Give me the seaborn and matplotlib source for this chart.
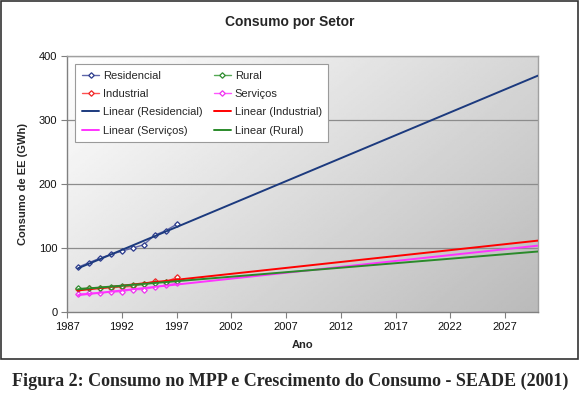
import numpy as np
import seaborn as sns
import matplotlib.pyplot as plt
from matplotlib.patches import Rectangle

# dados (GWh)
anos = [1988, 1989, 1990, 1991, 1992, 1993, 1994, 1995, 1996, 1997]
residencial = [70, 77, 84, 90, 95, 100, 105, 120, 127, 137]
industrial = [36, 37, 37, 38, 39, 40, 44, 48, 47, 54]
rural = [37, 37, 38, 39, 40, 42, 43, 46, 47, 49]
servicos = [28, 29, 30, 31, 32, 35, 35, 39, 42, 45]
ano_fim = 2030

series = [
    ('Residencial', residencial, '#5f66aa', '#2b3a8c', '#1c3a7e'),
    ('Industrial', industrial, '#ff5050', '#ee2222', '#ff0000'),
    ('Serviços', servicos, '#ff55ff', '#ee33ee', '#ff33ff'),
    ('Rural', rural, '#55aa55', '#2e8b2e', '#2a8a2a'),
]

sns.set_style('white')
plt.rcParams['font.family'] = ['Liberation Sans', 'DejaVu Sans']

fig = plt.figure(figsize=(5.8, 3.97), dpi=100)
fig.patches.append(Rectangle((1 / 580, 38 / 397), 577 / 580, 358 / 397, transform=fig.transFigure,
                             fill=False, edgecolor='#333333', linewidth=1.2))
ax = fig.add_axes([67 / 580, 1 - 312 / 397, 471 / 580, 256 / 397])

# fundo em degrade (branco -> cinza)
gx, gy = np.meshgrid(np.linspace(0, 1, 200), np.linspace(0, 1, 200))
grad = 1 - 0.27 * (0.6 * gx + 0.4 * gy)
ax.imshow(grad, extent=[1987, ano_fim, 0, 400], origin='upper', aspect='auto',
          cmap='gray', vmin=0, vmax=1, zorder=0)

handles = {}
xs = np.array(anos, dtype=float)
for nome, vals, cor_linha, cor_marca, cor_tend in series:
    sns.lineplot(x=anos, y=vals, ax=ax, color=cor_linha, linewidth=1.0, marker='D',
                 markersize=2.8, markerfacecolor='white', markeredgecolor=cor_marca,
                 markeredgewidth=0.9, zorder=3)
    handles[nome] = ax.lines[-1]
    a, b = np.polyfit(xs, vals, 1)
    xt = np.array([anos[0], ano_fim], dtype=float)
    sns.lineplot(x=xt, y=a * xt + b, ax=ax, color=cor_tend, linewidth=1.4, zorder=4)
    handles['Linear (' + nome + ')'] = ax.lines[-1]

ax.set_xlim(1987, ano_fim)
ax.set_ylim(0, 400)
ax.set_xticks(range(1987, 2028, 5))
ax.set_yticks([0, 100, 200, 300, 400])
for yv in [100, 200, 300, 400]:
    ax.axhline(yv, color='#8c8c8c', linewidth=0.9, zorder=1)
ax.tick_params(axis='both', labelsize=8, length=4, width=0.8, color='#808080',
               direction='out', bottom=True, left=True, pad=3, labelcolor='#111111')
for s in ax.spines.values():
    s.set_color('#a0a0a0')
    s.set_linewidth(1.0)
ax.spines['left'].set_color('#808080')
ax.spines['bottom'].set_color('#808080')

ax.set_xlabel('Ano', fontsize=8, fontweight='bold', labelpad=6)
ax.set_ylabel('Consumo de EE (GWh)', fontsize=8, fontweight='bold', labelpad=8)
fig.text(0.5, 1 - 22 / 397, 'Consumo por Setor', ha='center', va='center',
         fontsize=10, fontweight='bold')

ordem = ['Residencial', 'Industrial', 'Linear (Residencial)', 'Linear (Serviços)',
         'Rural', 'Serviços', 'Linear (Industrial)', 'Linear (Rural)']
leg = ax.legend([handles[k] for k in ordem], ordem, ncol=2, loc='upper left',
                bbox_to_anchor=(75 / 580, 1 - 64 / 397), bbox_transform=fig.transFigure,
                borderaxespad=0, fontsize=8, frameon=True, fancybox=False, framealpha=1,
                edgecolor='#9a9a9a', handlelength=1.6, handletextpad=0.3,
                columnspacing=1.0, labelspacing=0.75, borderpad=0.6)
leg.get_frame().set_linewidth(0.8)
leg.set_zorder(10)

fig.text(0.5, 1 - 381 / 397, 'Figura 2: Consumo no MPP e Crescimento do Consumo - SEADE (2001)',
         ha='center', va='center', fontsize=13, fontweight='bold',
         family=['Liberation Serif', 'DejaVu Serif'])

fig.savefig('out.png', dpi=100)
